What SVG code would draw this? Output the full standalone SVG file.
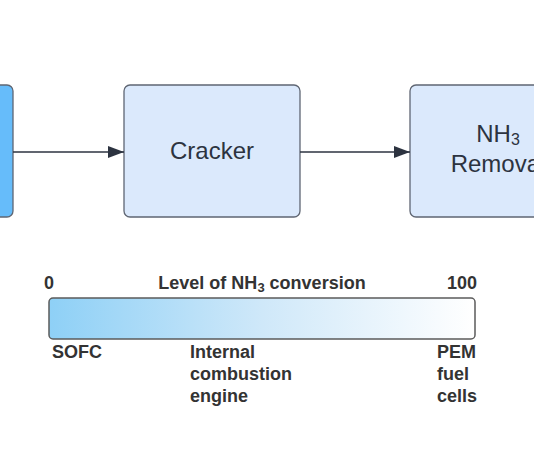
<svg xmlns="http://www.w3.org/2000/svg" width="534" height="462" viewBox="0 0 534 462">
<style>
.node{stroke:#5f6673;stroke-width:1.3}
.lt{fill:#dbe9fc}
.nt{font-family:"Liberation Sans",Arial,sans-serif;font-size:24px;fill:#2c3340;text-anchor:middle}
.lb{font-family:"Liberation Sans",Arial,sans-serif;font-size:18px;font-weight:bold;fill:#333}
.conn{stroke:#2c3340;stroke-width:1.5;fill:none}
</style>
<defs>
<marker id="ah" viewBox="0 0 16 12" refX="16" refY="6" markerWidth="16" markerHeight="12" markerUnits="userSpaceOnUse" orient="auto">
<path d="M0,0 L16,6 L0,12 Z" fill="#2c3340"/>
</marker>
<linearGradient id="g" x1="0" y1="0" x2="1" y2="0">
<stop offset="0" stop-color="#8ed0f6"/>
<stop offset="0.5" stop-color="#cfe8f9"/>
<stop offset="1" stop-color="#ffffff"/>
</linearGradient>
</defs>
<rect width="534" height="462" fill="#fff"/>
<g id="source"><rect class="node" x="-120" y="85" width="133" height="132" rx="6" fill="#66bcfa"/></g>
<g id="cracker"><rect class="node lt" x="124" y="85" width="176" height="132" rx="6"/><text class="nt" x="212" y="159">Cracker</text></g>
<g id="nh3removal"><rect class="node lt" x="410" y="85" width="176" height="132" rx="6"/><text class="nt" x="498" y="142">NH<tspan font-size="16" dy="3">3</tspan></text><text class="nt" x="498" y="172">Removal</text></g>
<g id="connectors">
<line class="conn" x1="13" y1="152" x2="124" y2="152" marker-end="url(#ah)"/>
<line class="conn" x1="300" y1="152" x2="410" y2="152" marker-end="url(#ah)"/>
</g>
<g id="scale">
<rect x="49" y="298" width="426" height="41" rx="4" fill="url(#g)" stroke="#5b5b5b" stroke-width="1.5"/>
<text class="lb" x="44" y="289">0</text>
<text class="lb" x="262" y="289" text-anchor="middle">Level of NH<tspan font-size="13" dy="3">3</tspan><tspan dy="-3"> conversion</tspan></text>
<text class="lb" x="477" y="289" text-anchor="end">100</text>
<text class="lb" x="52" y="358">SOFC</text>
<text class="lb" x="190" y="358">Internal</text>
<text class="lb" x="190" y="380">combustion</text>
<text class="lb" x="190" y="402">engine</text>
<text class="lb" x="437" y="358">PEM</text>
<text class="lb" x="437" y="380">fuel</text>
<text class="lb" x="437" y="402">cells</text>
</g>
</svg>
